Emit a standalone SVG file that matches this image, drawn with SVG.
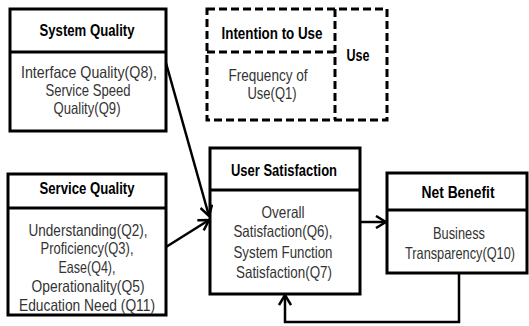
<svg xmlns="http://www.w3.org/2000/svg" width="529" height="326" viewBox="0 0 529 326">
<style>
  .box { fill: #fff; stroke: #000; stroke-width: 3; }
  .div { stroke: #000; stroke-width: 3; fill: none; }
  .dash { fill: none; stroke: #000; stroke-width: 3; stroke-dasharray: 8 4; }
  .t { font-family: "Liberation Sans", "Noto Sans", sans-serif; font-size: 16px; font-weight: bold; fill: #000; text-anchor: middle; }
  .b { font-family: "Liberation Sans", "Noto Sans", sans-serif; font-size: 16.5px; fill: #333; text-anchor: middle; }
  .c { fill: none; stroke: #000; stroke-width: 2.5; }
</style>
<defs>
  <marker id="ah" viewBox="0 0 12 14" refX="11" refY="7" markerWidth="12" markerHeight="14" markerUnits="userSpaceOnUse" orient="auto">
    <path d="M1,1 L11,7 L1,13" fill="none" stroke="#000" stroke-width="2.5"/>
  </marker>
</defs>
<rect width="529" height="326" fill="#fff"/>

<g id="system-quality">
  <rect class="box" x="10" y="9" width="156" height="122"/>
  <line class="div" x1="10" y1="52" x2="166" y2="52"/>
  <text class="t" x="87" y="36" textLength="95" lengthAdjust="spacingAndGlyphs">System Quality</text>
  <text class="b" x="89" y="78" textLength="136" lengthAdjust="spacingAndGlyphs">Interface Quality(Q8),</text>
  <text class="b" x="88" y="96" textLength="85" lengthAdjust="spacingAndGlyphs">Service Speed</text>
  <text class="b" x="87" y="114" textLength="67" lengthAdjust="spacingAndGlyphs">Quality(Q9)</text>
</g>

<g id="use">
  <rect class="dash" x="207" y="9" width="180" height="111"/>
  <line class="dash" x1="335" y1="9" x2="335" y2="120"/>
  <line class="dash" x1="207" y1="52" x2="335" y2="52"/>
  <text class="t" x="272" y="39" textLength="101" lengthAdjust="spacingAndGlyphs">Intention to Use</text>
  <text class="t" x="358" y="61" textLength="23" lengthAdjust="spacingAndGlyphs">Use</text>
  <text class="b" x="268" y="81" textLength="79" lengthAdjust="spacingAndGlyphs">Frequency of</text>
  <text class="b" x="272" y="99" textLength="49" lengthAdjust="spacingAndGlyphs">Use(Q1)</text>
</g>

<g id="service-quality">
  <rect class="box" x="8" y="174" width="158" height="141"/>
  <line class="div" x1="8" y1="208" x2="166" y2="208"/>
  <text class="t" x="87" y="194" textLength="95" lengthAdjust="spacingAndGlyphs">Service Quality</text>
  <text class="b" x="88" y="236" textLength="119" lengthAdjust="spacingAndGlyphs">Understanding(Q2),</text>
  <text class="b" x="87" y="254" textLength="93" lengthAdjust="spacingAndGlyphs">Proficiency(Q3),</text>
  <text class="b" x="87" y="273" textLength="57" lengthAdjust="spacingAndGlyphs">Ease(Q4),</text>
  <text class="b" x="88" y="292" textLength="113" lengthAdjust="spacingAndGlyphs">Operationality(Q5)</text>
  <text class="b" x="87" y="311" textLength="136" lengthAdjust="spacingAndGlyphs">Education Need (Q11)</text>
</g>

<g id="user-satisfaction">
  <rect class="box" x="210" y="148" width="150" height="146"/>
  <line class="div" x1="210" y1="190" x2="360" y2="190"/>
  <text class="t" x="284" y="176" textLength="106" lengthAdjust="spacingAndGlyphs">User Satisfaction</text>
  <text class="b" x="283" y="218" textLength="43" lengthAdjust="spacingAndGlyphs">Overall</text>
  <text class="b" x="283" y="237" textLength="99" lengthAdjust="spacingAndGlyphs">Satisfaction(Q6),</text>
  <text class="b" x="283" y="258" textLength="99" lengthAdjust="spacingAndGlyphs">System Function</text>
  <text class="b" x="284" y="278" textLength="96" lengthAdjust="spacingAndGlyphs">Satisfaction(Q7)</text>
</g>

<g id="net-benefit">
  <rect class="box" x="387" y="173" width="140" height="100"/>
  <line class="div" x1="387" y1="210" x2="527" y2="210"/>
  <text class="t" x="458" y="198" textLength="73" lengthAdjust="spacingAndGlyphs">Net Benefit</text>
  <text class="b" x="459" y="239" textLength="52" lengthAdjust="spacingAndGlyphs">Business</text>
  <text class="b" x="460" y="259" textLength="110" lengthAdjust="spacingAndGlyphs">Transparency(Q10)</text>
</g>

<g id="connectors">
  <line class="c" x1="166" y1="63" x2="209" y2="216" marker-end="url(#ah)"/>
  <line class="c" x1="166" y1="247" x2="209" y2="220" marker-end="url(#ah)"/>
  <line class="c" x1="360" y1="222" x2="386" y2="222" marker-end="url(#ah)"/>
  <path class="c" d="M459,273 V322 H285 V295" marker-end="url(#ah)"/>
</g>
</svg>
